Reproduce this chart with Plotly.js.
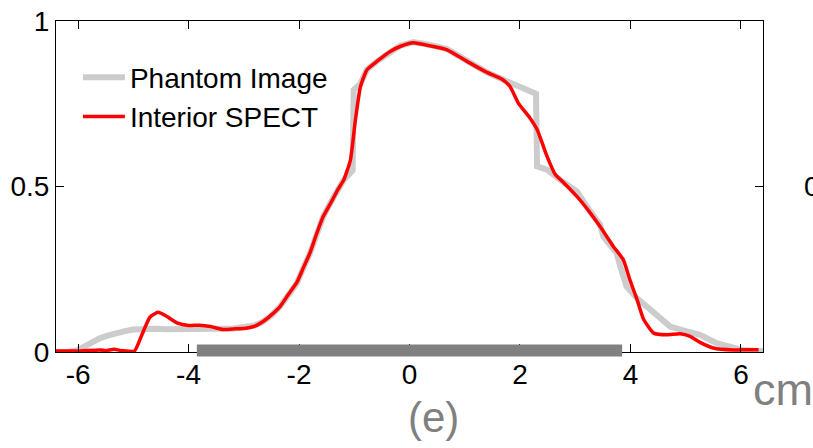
<!DOCTYPE html>
<html>
<head>
<meta charset="utf-8">
<script src="https://cdn.plot.ly/plotly-3.0.1.min.js"></script>
<style>html,body{margin:0;padding:0;background:#fff;}#chart{width:813px;height:448px;}</style>
</head>
<body>
<div id="chart"></div>
<script>
// Phantom Image profile (gray)
var phantomX = [-6.4,-6.2,-6.02,-5.8,-5.6,-5.45,-5.3,-5.15,-5.0,-4.8,-4.58,-4.39,-4.1,-3.79,-3.5,-3.19,-2.95,-2.8,-2.65,-2.5,-2.34,-2.2,-2.04,-1.92,-1.8,-1.68,-1.56,-1.4,-1.3,-1.19,-1.03,-1.01,-0.89,-0.77,-0.59,-0.35,-0.17,0.07,0.37,0.68,1.04,1.4,1.76,2.06,2.24,2.29,2.31,2.49,2.73,3.03,3.25,3.45,3.51,3.75,3.81,3.93,4.12,4.3,4.48,4.72,5.02,5.26,5.56,5.86,6.05,6.4];
var phantomY = [0,0,0.005,0.025,0.042,0.05,0.058,0.063,0.068,0.07,0.07,0.069,0.068,0.07,0.07,0.071,0.074,0.08,0.092,0.11,0.138,0.17,0.208,0.255,0.299,0.355,0.41,0.46,0.49,0.52,0.548,0.792,0.81,0.853,0.878,0.908,0.925,0.936,0.928,0.915,0.878,0.845,0.818,0.798,0.787,0.78,0.561,0.551,0.52,0.485,0.43,0.385,0.349,0.299,0.262,0.198,0.162,0.138,0.113,0.077,0.062,0.052,0.027,0.012,0.005,0.002];
// Interior SPECT profile (red)
var spectX = [-6.4,-6.0,-5.6,-5.5,-5.35,-5.2,-4.98,-4.85,-4.7,-4.55,-4.4,-4.2,-4.0,-3.8,-3.6,-3.38,-3.15,-2.96,-2.8,-2.65,-2.5,-2.34,-2.2,-2.04,-1.92,-1.8,-1.68,-1.56,-1.4,-1.3,-1.19,-1.07,-0.98,-0.89,-0.77,-0.59,-0.35,-0.17,0.07,0.37,0.68,1.04,1.4,1.67,1.82,1.97,2.18,2.31,2.49,2.64,2.8,3.03,3.25,3.45,3.69,3.87,3.99,4.12,4.24,4.42,4.66,4.9,5.08,5.26,5.5,5.86,6.1,6.32];
var spectY = [0.003,0.003,0.006,0.004,0.008,0.004,0.003,0.05,0.105,0.12,0.108,0.087,0.08,0.081,0.077,0.068,0.07,0.072,0.078,0.092,0.112,0.138,0.172,0.21,0.255,0.3,0.358,0.41,0.458,0.49,0.52,0.58,0.7,0.8,0.853,0.878,0.908,0.923,0.934,0.925,0.913,0.878,0.845,0.825,0.802,0.752,0.707,0.672,0.591,0.536,0.51,0.47,0.425,0.379,0.319,0.279,0.218,0.158,0.098,0.057,0.052,0.055,0.047,0.029,0.012,0.006,0.007,0.007];
// Interior region (ROI) extent
var roiRange = [-3.85, 3.85];
var xTickVals = [-6,-4,-2,0,2,4,6];
var xTickText = ['-6','-4','-2','0','2','4','6'];
var yTickVals = [0,0.5,1];
var yTickText = ['0','0.5','1'];
var seriesNames = ['Phantom Image','Interior SPECT'];

var font = '"Liberation Sans", Arial, Helvetica, sans-serif';

var traces = [
  {x: phantomX, y: phantomY, type: 'scatter', mode: 'lines', name: seriesNames[0],
   line: {color: '#cccccc', width: 6}},
  {x: spectX, y: spectY, type: 'scatter', mode: 'lines', name: seriesNames[1],
   line: {color: '#ff0000', width: 3.5, shape: 'spline', smoothing: 0.5}}
];

var layout = {
  width: 813, height: 448,
  margin: {l: 56, r: 50, t: 21, b: 96},
  paper_bgcolor: '#ffffff', plot_bgcolor: '#ffffff',
  showlegend: true,
  legend: {x: 0.031, y: 0.905, xanchor: 'left', yanchor: 'top', bgcolor: 'rgba(0,0,0,0)',
           font: {family: font, size: 28, color: '#000'}, itemwidth: 42, tracegroupgap: 0},
  xaxis: {range: [-6.4, 6.4], tickvals: xTickVals, ticktext: xTickText, ticks: 'inside', ticklen: 8,
          tickcolor: '#000', showline: true, linecolor: '#000', linewidth: 1, mirror: 'ticks',
          showgrid: false, zeroline: false, ticklabelstandoff: -3,
          tickfont: {family: font, size: 28, color: '#000'}},
  yaxis: {range: [0, 1], tickvals: yTickVals, ticktext: yTickText, ticks: 'inside', ticklen: 8,
          tickcolor: '#000', showline: true, linecolor: '#000', linewidth: 1, mirror: 'ticks',
          showgrid: false, zeroline: false, tickfont: {family: font, size: 28, color: '#000'}},
  shapes: [
    {type: 'line', xref: 'x', yref: 'paper', x0: roiRange[0], x1: roiRange[1], y0: 0.0045, y1: 0.0045,
     line: {color: '#808080', width: 12}, layer: 'above'}
  ],
  annotations: [
    {text: 'cm', xref: 'paper', yref: 'paper', x: 0.983, y: -0.03, xanchor: 'left', yanchor: 'top',
     showarrow: false, font: {family: font, size: 45, color: '#808080'}},
    {text: '(e)', xref: 'paper', yref: 'paper', x: 0.534, y: -0.12, xanchor: 'center', yanchor: 'top',
     showarrow: false, font: {family: font, size: 42, color: '#808080'}},
    {text: '0.5', xref: 'paper', yref: 'y', x: 1.0547, y: 0.5, xanchor: 'left', yanchor: 'middle',
     showarrow: false, font: {family: font, size: 28, color: '#000'}}
  ]
};

Plotly.newPlot('chart', traces, layout, {displayModeBar: false, staticPlot: true});
</script>
</body>
</html>
